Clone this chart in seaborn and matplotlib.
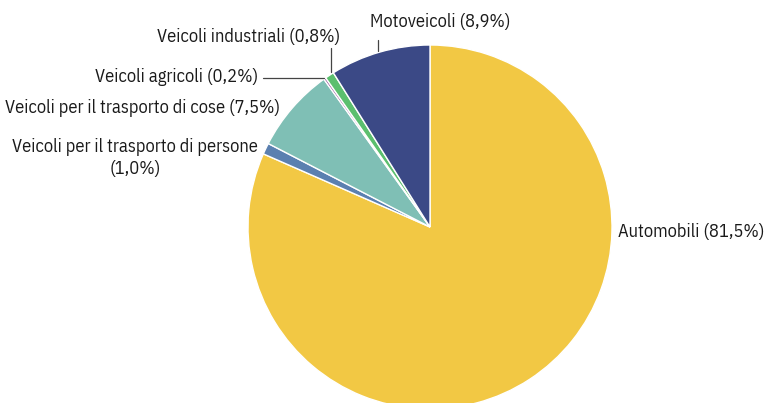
import matplotlib
matplotlib.use("Agg")
import matplotlib.pyplot as plt
import seaborn as sns

# Data
categories = ["Automobili", "Veicoli per il trasporto di persone",
              "Veicoli per il trasporto di cose", "Veicoli agricoli",
              "Veicoli industriali", "Motoveicoli"]
shares = [81.5, 1.0, 7.5, 0.2, 0.8, 8.9]
labels = ["Automobili (81,5%)", "Veicoli per il trasporto di persone\n(1,0%)",
          "Veicoli per il trasporto di cose (7,5%)", "Veicoli agricoli (0,2%)",
          "Veicoli industriali (0,8%)", "Motoveicoli (8,9%)"]
colors = ["#F2C844", "#5B80B0", "#7FBFB5", "#9B5FA3", "#5BBF6E", "#3B4986"]

sns.set_style("white")
plt.rcParams["font.family"] = ["IBM Plex Sans Condensed", "DejaVu Sans"]

W, H = 771, 403
fig = plt.figure(figsize=(W / 100, H / 100), dpi=100)
cx, cy, r = 430, 227, 182
ax = fig.add_axes([(cx - r) / W, (H - cy - r) / H, 2 * r / W, 2 * r / H])

ax.pie(shares, colors=colors, startangle=90, counterclock=False,
       wedgeprops=dict(edgecolor="white", linewidth=1.0))
ax.set_xlim(-1, 1)
ax.set_ylim(-1, 1)
ax.set_aspect("equal")
ax.axis("off")


def px(x, y):
    return (x - cx) / r, (cy - y) / r


txt = dict(fontsize=13.2, color="#1a1a1a", va="center")

# label placement (pixel positions)
ax.text(*px(618, 232), labels[0], ha="left", **txt)
ax.text(*px(135, 158), labels[1], ha="center", multialignment="center",
        linespacing=1.3, **txt)
ax.text(*px(280, 108), labels[2], ha="right", **txt)
ax.text(*px(258, 77), labels[3], ha="right", **txt)
ax.text(*px(340, 37), labels[4], ha="right", **txt)
ax.text(*px(370, 22), labels[5], ha="left", **txt)

# leader lines
line = dict(color="#444444", linewidth=0.9, clip_on=False)
ax.plot(*zip(px(378, 40), px(378, 51)), **line)
ax.plot(*zip(px(331, 48), px(331, 72)), **line)
ax.plot(*zip(px(263, 77.5), px(324, 77.5)), **line)

fig.savefig("out.png", dpi=100)
